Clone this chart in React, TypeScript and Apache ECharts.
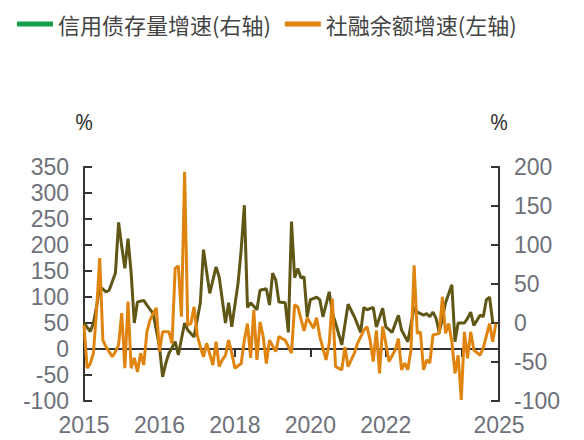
import React, { useEffect, useRef } from 'react';
import * as echarts from 'echarts';

// 信用债存量增速(右轴) — month and value (%)
const creditDates = [
  '2014-01','2014-03','2014-04','2014-05','2014-06','2014-08','2014-09','2014-11','2014-12',
  '2015-01','2015-02','2015-03','2015-04','2015-05','2015-06','2015-08','2015-09','2015-11',
  '2016-01','2016-02','2016-03','2016-04','2016-06','2016-07','2016-09','2016-10','2016-12',
  '2017-02','2017-03','2017-05','2017-07','2017-08','2017-10','2017-11','2017-12',
  '2018-02','2018-03','2018-04','2018-05','2018-06','2018-08','2018-09','2018-11','2018-12',
  '2019-01','2019-02','2019-03','2019-05','2019-06','2019-07','2019-08','2019-09','2019-10','2019-11','2019-12',
  '2020-01','2020-03','2020-04','2020-05','2020-07','2020-08','2020-09','2020-11',
  '2021-01','2021-03','2021-05','2021-06','2021-07','2021-09','2021-10','2021-12',
  '2022-01','2022-03','2022-05','2022-06','2022-08','2022-10','2022-11',
  '2023-01','2023-02','2023-03','2023-04','2023-05','2023-06','2023-07','2023-08','2023-10','2023-11','2023-12',
  '2024-02','2024-03','2024-04','2024-05','2024-07','2024-08','2024-09','2024-10','2024-11',
];
const creditValues = [
  0, -11, 0, 21, 47, 40, 42, 64, 129,
  98, 70, 108, 64, 0, 27, 29, 23, 12,
  -30, -69, -52, -39, -24, -41, 0, -9, -18,
  26, 94, 38, 72, 59, 0, 26, -5,
  51, 94, 151, 20, 26, 17, 42, 44, 23,
  64, 55, 27, 26, -12, 130, 58, 70, 58, 59, 8,
  30, 33, 30, 8, 40, 13, 0, -28,
  24, 8, -12, 20, 17, 20, -5, 19,
  -5, -12, 10, -9, -24, 20, 14,
  10, 12, 8, 14, 6, -12, 6, 26, 49, -24, 0,
  0, 6, 14, -3, 10, 8, 30, 33, 1,
];

// 社融余额增速(左轴) — month and value (%)
const tsfDates = [
  '2014-01','2014-02','2014-03','2014-04','2014-05','2014-06','2014-07','2014-08','2014-10','2014-11','2014-12',
  '2015-01','2015-02','2015-03','2015-04','2015-05','2015-06','2015-07','2015-08','2015-09','2015-10','2015-12',
  '2016-01','2016-02','2016-04','2016-05','2016-06','2016-07','2016-08','2016-09','2016-10','2016-11','2016-12',
  '2017-01','2017-02','2017-03','2017-04','2017-06','2017-07','2017-08','2017-09','2017-10','2017-11','2017-12',
  '2018-01','2018-03','2018-04','2018-05','2018-06','2018-07','2018-08','2018-09','2018-10','2018-11','2018-12',
  '2019-02','2019-03','2019-04','2019-05','2019-07','2019-08','2019-09','2019-11','2019-12',
  '2020-02','2020-03','2020-04','2020-06','2020-07','2020-08','2020-09','2020-11','2020-12',
  '2021-01','2021-03','2021-04','2021-06','2021-07','2021-08','2021-09','2021-10','2021-11','2021-12',
  '2022-01','2022-02','2022-04','2022-05','2022-06','2022-07','2022-08','2022-09','2022-10','2022-11','2022-12',
  '2023-01','2023-02','2023-03','2023-04','2023-06','2023-07','2023-08','2023-09','2023-10','2023-11','2023-12',
  '2024-01','2024-02','2024-03','2024-04','2024-05','2024-07','2024-08','2024-10','2024-11','2024-12',
];
const tsfValues = [
  46, -37, -28, -8, 75, 175, 17, 4, -15, -5, 8,
  69, -37, 91, -37, -17, -44, -8, -31, 33, 56, 79,
  -5, 33, 33, 11, 155, 160, 62, 341, 46, 49, 81,
  27, 4, -15, 11, -31, 14, -34, -21, -12, 17, -8,
  -37, -28, 17, 49, -17, 75, -21, 52, 24, -28, 17,
  -5, 24, 20, 17, -8, 85, 81, 35, 60,
  40, 60, 24, -21, 11, 97, -34, -40, 4,
  -34, -8, 11, 36, 43, 17, -24, 36, -47, 43,
  11, -24, -2, 20, -40, -27, -40, -2, 161, 30, 33,
  -40, -21, -27, 27, 30, 100, 30, 49, 14, -47, -12,
  -98, 33, -18, 33, -2, -12, 2, 49, 14, 49,
];

const legendNames = ['信用债存量增速(右轴)', '社融余额增速(左轴)'];
const xTickLabels: Record<number, string> = { 2014: '2015', 2016: '2016', 2018: '2018', 2020: '2020', 2022: '2022', 2024: '', 2025: '2025' };

const toX = (d: string) => {
  const [y, m] = d.split('-').map(Number);
  return y + (m - 1) / 12;
};

const NUM_FONT = '"Liberation Sans", sans-serif';

export default function App() {
  const ref = useRef<HTMLDivElement>(null);
  useEffect(() => {
    if (!ref.current) return;
    const chart = echarts.init(ref.current, undefined, { renderer: 'svg' });
    const axisLabel = { color: '#6e7079', fontSize: 23, lineHeight: 23, fontFamily: NUM_FONT };
    const yCommon = {
      type: 'value',
      interval: 50,
      name: '%',
      nameLocation: 'end',
      nameGap: 35,
      nameTextStyle: { color: '#333', fontSize: 22, fontFamily: '"Open Sans", sans-serif', align: 'center' },
      splitLine: { show: false },
      axisLine: { show: true, lineStyle: { color: '#333', width: 2 } },
      axisTick: { show: true, inside: true, length: 8, lineStyle: { color: '#333', width: 2 } },
      axisLabel: { ...axisLabel, margin: 15 },
    };
    chart.setOption({
      animation: false,
      legend: {
        left: 12,
        top: 8,
        icon: 'rect',
        itemWidth: 36,
        itemHeight: 5,
        itemGap: 14,
        textStyle: { fontSize: 22, color: '#444', fontFamily: '"Noto Sans CJK SC", sans-serif' },
        data: [
          { name: legendNames[0], itemStyle: { color: '#14a04b' }, lineStyle: { color: '#14a04b' } },
          { name: legendNames[1], itemStyle: { color: '#e08410' }, lineStyle: { color: '#e08410' } },
        ],
      },
      grid: { left: 84, right: 85, top: 167, bottom: 39 },
      xAxis: {
        type: 'value',
        min: 2014,
        max: 2025,
        interval: 2,
        splitLine: { show: false },
        axisLine: { show: true, lineStyle: { color: '#333', width: 2 } },
        axisTick: { show: true, length: 8, lineStyle: { color: '#333', width: 2 } },
        axisLabel: { ...axisLabel, margin: 12, formatter: (v: number) => xTickLabels[v] ?? '' },
      },
      yAxis: [
        { ...yCommon, min: -100, max: 350 },
        { ...yCommon, min: -100, max: 200 },
      ],
      series: [
        {
          name: legendNames[0],
          type: 'line',
          yAxisIndex: 1,
          showSymbol: false,
          symbol: 'none',
          lineStyle: { color: '#605616', width: 3 },
          itemStyle: { color: '#14a04b' },
          data: creditDates.map((d, i) => [toX(d), creditValues[i]]),
        },
        {
          name: legendNames[1],
          type: 'line',
          yAxisIndex: 0,
          showSymbol: false,
          symbol: 'none',
          lineStyle: { color: '#e08410', width: 3 },
          itemStyle: { color: '#e08410' },
          data: tsfDates.map((d, i) => [toX(d), tsfValues[i]]),
        },
      ],
    });
    return () => chart.dispose();
  }, []);
  return <div ref={ref} style={{ position: 'fixed', left: 0, top: 0, width: 584, height: 440, background: '#fff' }} />;
}
